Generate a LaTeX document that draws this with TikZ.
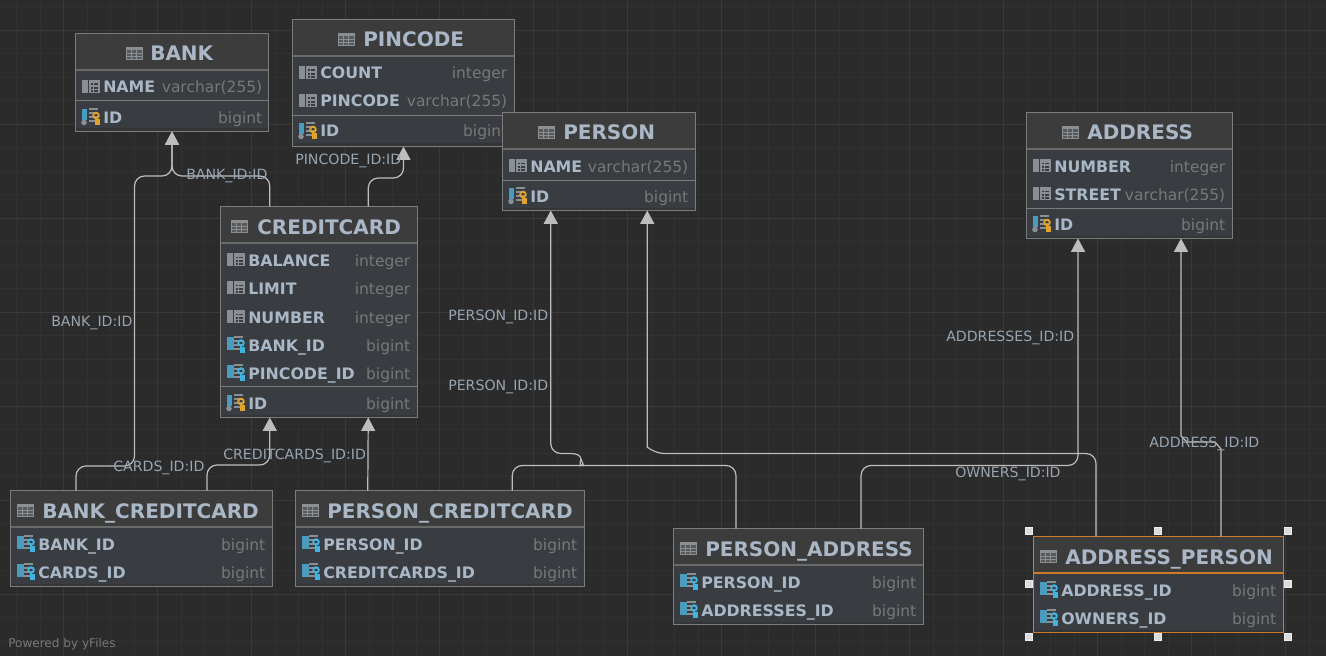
\documentclass[tikz,border=0pt]{standalone}
\usepackage{fontspec}
\setmainfont{DejaVu Sans}
\usetikzlibrary{arrows.meta,calc}

\definecolor{canvas}{HTML}{2B2B2B}
\definecolor{gridminor}{HTML}{313131}
\definecolor{gridmajor}{HTML}{3A3A3A}
\definecolor{headfill}{HTML}{3C3C3C}
\definecolor{rowfill}{HTML}{393C40}
\definecolor{rowshade}{HTML}{333639}
\definecolor{boxgrey}{HTML}{7B7D7D}
\definecolor{seltrim}{HTML}{D07A2C}
\definecolor{inktext}{HTML}{A9B7C6}
\definecolor{typetext}{HTML}{787878}
\definecolor{wire}{HTML}{BDBDBD}
\definecolor{iconblue}{HTML}{4A9CBE}
\definecolor{icongrey}{HTML}{8A8F93}
\definecolor{keygold}{HTML}{E2A32E}
\definecolor{keycyan}{HTML}{3FB4E0}

\tikzset{
  boxline/.style={draw=boxgrey,line width=.75pt},
  headline/.style={draw=boxgrey!85!black},
  tablebox/.style 2 args={fill=rowfill,inner sep=0pt,outer sep=0pt,
    minimum width=#1*.75pt,minimum height=#2*.75pt},
  tablehead/.style={fill=headfill,inner sep=0pt,outer sep=0pt,minimum width=#1*.75pt-1pt,
    minimum height=27.4pt,anchor=north},
  titletext/.style={anchor=base west,inner sep=0pt,text=inktext,font=\fontsize{15}{18}\selectfont\bfseries},
  coltext/.style={anchor=base west,inner sep=0pt,text=inktext,font=\fontsize{11.85}{14}\selectfont\bfseries},
  typelabel/.style={anchor=base east,inner sep=0pt,text=typetext,font=\fontsize{11.6}{14}\selectfont},
  edgelabel/.style={anchor=base west,inner sep=0pt,text=inktext!90!black,font=\fontsize{10.6}{12}\selectfont},
  edge/.style={draw=wire,line width=.9pt,rounded corners=7.5pt},
  edgetip/.style={-{Triangle[width=10.5pt,length=10pt,color=wire]},edge},
  handle/.style={draw=white!85!gray,fill=white!72!gray,line width=.4pt,inner sep=0pt,minimum size=5pt},
  tableicon/.pic={
    \draw[icongrey,fill=icongrey!35!headfill,line width=.7pt] (0,-6) rectangle (16,6);
    \fill[icongrey] (0,-6) rectangle (16,-3);
    \foreach \lx in {5.3,10.6} \draw[icongrey,line width=.5pt] (\lx,-6) -- (\lx,6);
    \foreach \ly in {0,3} \draw[icongrey,line width=.5pt] (0,\ly) -- (16,\ly);
  },
  colicon/.pic={
    \fill[icongrey] (0,-7) rectangle (6,6);
    \fill[icongrey] (8,-7) rectangle (17,-3.5);
    \draw[icongrey,line width=.8pt] (8,-6.5) rectangle (17,5.5);
    \foreach \ly in {-1,2.5} \draw[icongrey,line width=.8pt] (8,\ly) -- (17,\ly);
    \draw[icongrey,line width=.8pt] (11.5,-6.5) -- (11.5,5.5);
  },
  pkicon/.pic={
    \foreach \ly in {-8,-4,0,4} \draw[icongrey,line width=1pt] (7,\ly) -- (16,\ly);
    \fill[iconblue] (0,-8) rectangle (5,3);
    \fill[icongrey] (2,5.5) circle (2.8);
    \draw[keygold,line width=1.4pt] (14,-1.5) circle (2.8);
    \draw[keygold,line width=1.6pt] (14,1) -- (14,6.5) -- (17.5,6.5) (14,3.5) -- (17.5,3.5);
  },
  fkicon/.pic={
    \foreach \ly in {-8,-4,0,4} \draw[icongrey,line width=1pt] (7,\ly) -- (16,\ly);
    \fill[iconblue] (0,-8) rectangle (6.5,5);
    \draw[keycyan,line width=1.4pt] (14,-2) circle (2.8);
    \draw[keycyan,line width=1.6pt] (14,.5) -- (14,6.5) -- (17.5,6.5) (14,3.5) -- (17.5,3.5);
  },
}

% table: name, centre x, centre y, width, height, title, icon x, title x, title baseline
\newcommand{\dbtable}[9]{
  \node[tablebox={#4}{#5}] (#1) at (#2,#3) {};
  \fill[rowshade] ($(#1.south west)+(.5,-3)$) rectangle ($(#1.south east)+(-.5,-.5)$);
  \node[tablehead=#4] (#1Head) at (#1.north) {};
  \draw[headline,line width=1.6pt] (#1Head.south west) -- (#1Head.south east);
  \draw[boxline] (#1.south west) rectangle (#1.north east);
  \coordinate (#1NL) at ($(#1.north west)!.25!(#1.north east)$);
  \coordinate (#1NR) at ($(#1.north west)!.75!(#1.north east)$);
  \coordinate (#1SL) at ($(#1.south west)!.25!(#1.south east)$);
  \coordinate (#1SR) at ($(#1.south west)!.75!(#1.south east)$);
  \pic at (#7,#9-8) {tableicon};
  \node[titletext] (#1Title) at (#8,#9) {#6};
}
% row: name, left, right, centre y, icon, text, type
\newcommand{\dbrow}[7]{
  \pic at (#2+6,#4) {#5};
  \node[coltext] (#1) at (#2+27,#4+6) {#6};
  \node[typelabel] (#1Type) at (#3-6.5,#4+6) {#7};
}
\newcommand{\dbsep}[2]{
  \draw[boxline] (#1.west |- 0,#2+.5) -- (#1.east |- 0,#2+.5);
}

\begin{document}
\begin{tikzpicture}[x=.75pt,y=-.75pt]
  \useasboundingbox (0,0) rectangle (1326,656);
  \fill[canvas] (0,0) rectangle (1326,656);

  % canvas grid
  \foreach \gx in {0,...,56}
    \draw[gridminor,line width=.75pt] (16.5+23.5*\gx,0) -- (16.5+23.5*\gx,656);
  \foreach \gy in {0,...,27}
    \draw[gridminor,line width=.75pt] (0,6.8+23.5*\gy) -- (1326,6.8+23.5*\gy);
  \foreach \gx in {0,...,13}
    \draw[gridmajor,line width=.75pt] (63.5+94*\gx,0) -- (63.5+94*\gx,656);
  \foreach \gy in {0,...,6}
    \draw[gridmajor,line width=.75pt] (0,30.5+94*\gy) -- (1326,30.5+94*\gy);

  % tables
  \dbtable{pincode}{403.5}{83}{222}{127}{PINCODE}{338}{363}{47}
  \dbrow{pincodeCount}{293}{514}{73}{colicon}{COUNT}{integer}
  \dbrow{pincodeCode}{293}{514}{101}{colicon}{PINCODE}{varchar(255)}
  \dbsep{pincode}{115}
  \dbrow{pincodeId}{293}{514}{131}{pkicon}{ID}{bigint}

  \dbtable{bank}{172}{82.5}{193}{98}{BANK}{126}{150}{61}
  \dbrow{bankName}{76}{269}{87}{colicon}{NAME}{varchar(255)}
  \dbsep{bank}{100}
  \dbrow{bankId}{76}{269}{117}{pkicon}{ID}{bigint}

  \dbtable{person}{599}{161.5}{193}{98}{PERSON}{538}{563}{140}
  \dbrow{personName}{503}{695}{166}{colicon}{NAME}{varchar(255)}
  \dbsep{person}{180}
  \dbrow{personId}{503}{695}{196}{pkicon}{ID}{bigint}

  \dbtable{address}{1129.5}{175.5}{206}{126}{ADDRESS}{1062}{1087}{140}
  \dbrow{addressNumber}{1027}{1232}{166}{colicon}{NUMBER}{integer}
  \dbrow{addressStreet}{1027}{1232}{194}{colicon}{STREET}{varchar(255)}
  \dbsep{address}{208}
  \dbrow{addressId}{1027}{1232}{224}{pkicon}{ID}{bigint}

  \dbtable{credit}{319}{312}{197}{211}{CREDITCARD}{231}{257}{234}
  \dbrow{creditBalance}{221}{417}{260}{colicon}{BALANCE}{integer}
  \dbrow{creditLimit}{221}{417}{288}{colicon}{LIMIT}{integer}
  \dbrow{creditNumber}{221}{417}{317}{colicon}{NUMBER}{integer}
  \dbrow{creditBank}{221}{417}{345}{fkicon}{BANK\_ID}{bigint}
  \dbrow{creditPin}{221}{417}{373}{fkicon}{PINCODE\_ID}{bigint}
  \dbsep{credit}{386}
  \dbrow{creditId}{221}{417}{403}{pkicon}{ID}{bigint}

  \dbtable{bankCredit}{141.5}{538.5}{262}{96}{BANK\_CREDITCARD}{17}{42}{518}
  \dbrow{bankCreditBank}{11}{272}{544}{fkicon}{BANK\_ID}{bigint}
  \dbrow{bankCreditCards}{11}{272}{572}{fkicon}{CARDS\_ID}{bigint}

  \dbtable{personCredit}{440}{538.5}{289}{96}{PERSON\_CREDITCARD}{302}{327}{518}
  \dbrow{personCreditPerson}{296}{584}{544}{fkicon}{PERSON\_ID}{bigint}
  \dbrow{personCreditCards}{296}{584}{572}{fkicon}{CREDITCARDS\_ID}{bigint}

  \dbtable{personAddress}{798.5}{576.5}{250}{96}{PERSON\_ADDRESS}{680}{705}{556}
  \dbrow{personAddressPerson}{674}{923}{582}{fkicon}{PERSON\_ID}{bigint}
  \dbrow{personAddressAddr}{674}{923}{610}{fkicon}{ADDRESSES\_ID}{bigint}

  \begin{scope}[boxline/.style={draw=seltrim,line width=1pt},headline/.style={draw=seltrim}]
    \dbtable{addressPerson}{1158.5}{584.5}{250}{96}{ADDRESS\_PERSON}{1040}{1065}{564}
    \dbrow{addressPersonAddr}{1034}{1283}{590}{fkicon}{ADDRESS\_ID}{bigint}
    \dbrow{addressPersonOwners}{1034}{1283}{618}{fkicon}{OWNERS\_ID}{bigint}
  \end{scope}

  % selection handles
  \foreach \hx/\hy/\hname in {1029/531/hA,1158/531/hB,1288/531/hC,1029/584/hD,1288/584/hE,1029/637/hF,1158/637/hG,1288/637/hH}
    \node[handle] (\hname) at (\hx,\hy) {};

  % connectors
  \draw[edgetip] (bankCreditNL) |- (134.5,466) -- (134.5,176) -| (bank.south);
  \draw[edgetip] (creditNL) |- (bank.south |- 0,176) -- (bank.south);
  \draw[edgetip] (bankCreditNR) |- (creditSL |- 0,465) -- (creditSL);
  \draw[edgetip] (personCreditNL) -- (creditSR);
  \draw[edgetip] (creditNR) |- (pincode.south |- 0,178) -- (pincode.south);
  \draw[edge] (personCreditNR) |- (574,465.5) [sharp corners] .. controls (579,465.5) and (580,463) .. (581,459);
  \draw[edgetip] (personAddressNL) |- (592,465.5) [sharp corners] .. controls (585,465.5) and (582,463) .. (581,459)
    .. controls (580,455) and (577,453.5) .. (570,453.5) [rounded corners=7.5pt] -| (personSL);
  \draw[edgetip] (personAddressNR) |- (addressSL |- 0,465.5) -- (addressSL);
  \draw[edgetip] (addressPersonNL) |- (654,453.5) [sharp corners] -- (personSR |- 0,447) -- (personSR);
  \draw[edgetip,sharp corners] (addressPersonNR) -- (addressPersonNR |- 0,449) -- (1215,442) -- (1187,442) -- (addressSR |- 0,436) -- (addressSR);

  % connector labels
  \node[edgelabel] (lblBankA) at (186,180) {BANK\_ID:ID};
  \node[edgelabel] (lblBankB) at (51,326) {BANK\_ID:ID};
  \node[edgelabel] (lblPin) at (295,165) {PINCODE\_ID:ID};
  \node[edgelabel] (lblPersonA) at (448,320) {PERSON\_ID:ID};
  \node[edgelabel] (lblPersonB) at (448,390) {PERSON\_ID:ID};
  \node[edgelabel] (lblAddrs) at (946,341) {ADDRESSES\_ID:ID};
  \node[edgelabel] (lblAddr) at (1149,447) {ADDRESS\_ID:ID};
  \node[edgelabel] (lblOwners) at (955,477) {OWNERS\_ID:ID};
  \node[edgelabel] (lblCards) at (113,471) {CARDS\_ID:ID};
  \node[edgelabel] (lblCredit) at (223,459) {CREDITCARDS\_ID:ID};

  \node[anchor=base west,inner sep=0pt,text=typetext,font=\fontsize{9.05}{11}\selectfont] (powered) at (8,647) {Powered by yFiles};
\end{tikzpicture}
\end{document}
